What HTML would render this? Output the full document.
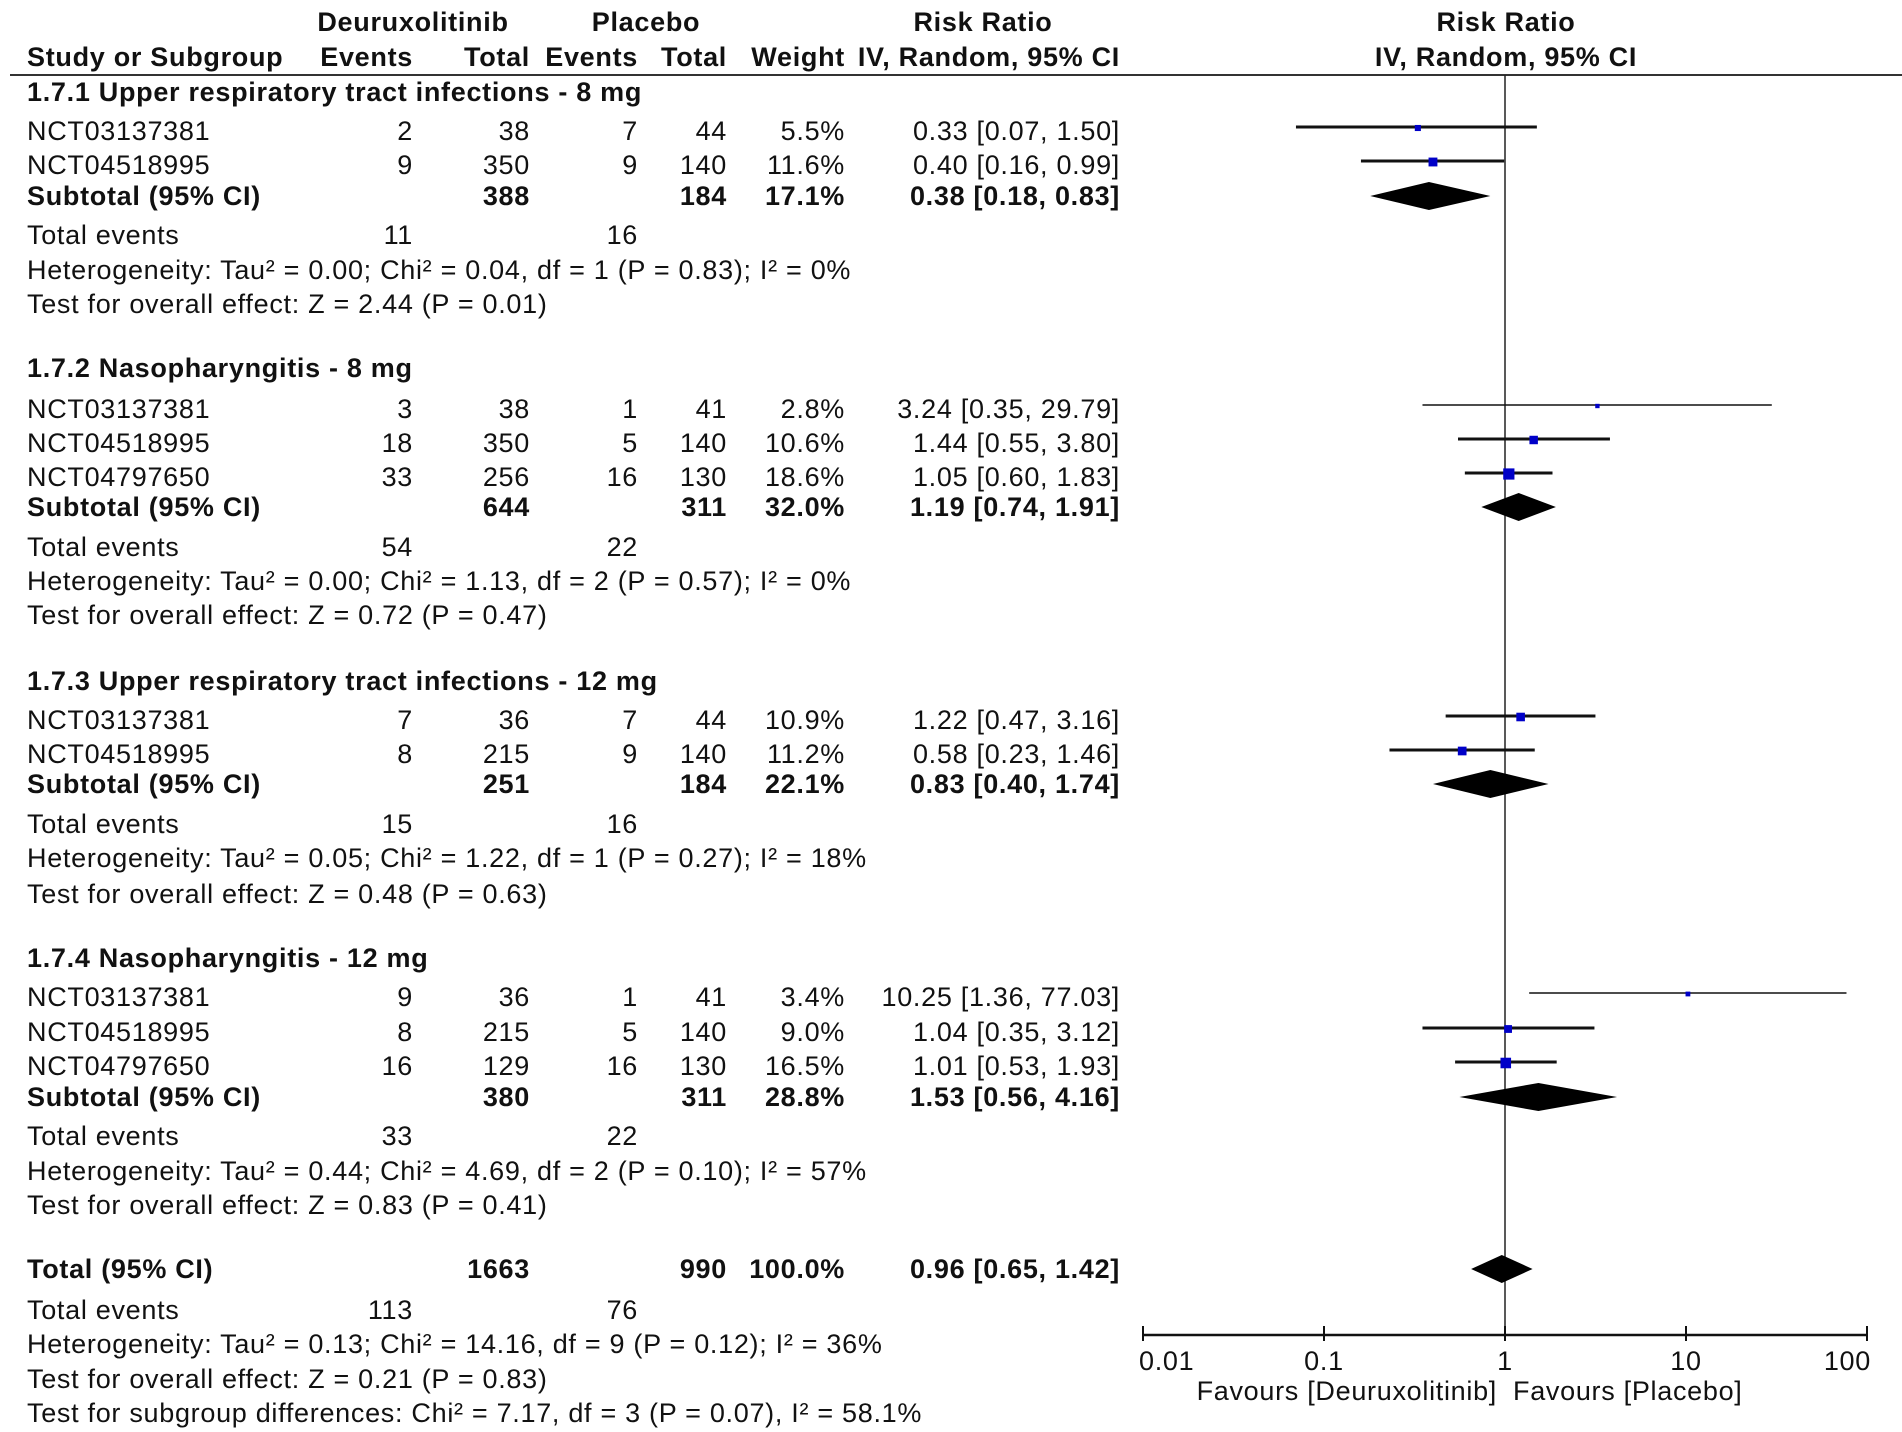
<!DOCTYPE html>
<html><head><meta charset="utf-8"><style>
html,body{margin:0;padding:0;background:#fff;}
svg{display:block;font-family:"Liberation Sans","DejaVu Sans",sans-serif;}
</style></head><body>
<svg id="chart" width="1902" height="1432" viewBox="0 0 1902 1432" xmlns="http://www.w3.org/2000/svg"></svg>
<script>
// ---- data ----
const studyNames = ["NCT03137381","NCT04518995","NCT03137381","NCT04518995","NCT04797650","NCT03137381","NCT04518995","NCT03137381","NCT04518995","NCT04797650"];
const studyEst = [0.33,0.40,3.24,1.44,1.05,1.22,0.58,10.25,1.04,1.01];
const studyLo  = [0.07,0.16,0.35,0.55,0.60,0.47,0.23,1.36,0.35,0.53];
const studyHi  = [1.50,0.99,29.79,3.80,1.83,3.16,1.46,77.03,3.12,1.93];
const studyWeight = [5.5,11.6,2.8,10.6,18.6,10.9,11.2,3.4,9.0,16.5];
const studyEvD = [2,9,3,18,33,7,8,9,8,16];
const studyTotD = [38,350,38,350,256,36,215,36,215,129];
const studyEvP = [7,9,1,5,16,7,9,1,5,16];
const studyTotP = [44,140,41,140,130,44,140,41,140,130];
const studyY = [131,165,409,443,477,720,754,997,1032,1066];
const subEst = [0.38,1.19,0.83,1.53,0.96];
const subLo  = [0.18,0.74,0.40,0.56,0.65];
const subHi  = [0.83,1.91,1.74,4.16,1.42];
const subLabel = ["Subtotal (95% CI)","Subtotal (95% CI)","Subtotal (95% CI)","Subtotal (95% CI)","Total (95% CI)"];
const subTotD = [388,644,251,380,1663];
const subTotP = [184,311,184,311,990];
const subWeight = ["17.1%","32.0%","22.1%","28.8%","100.0%"];
const subY = [196,507,784,1097,1269];
const tickValues = [0.01,0.1,1,10,100];
const tickLabels = ["0.01","0.1","1","10","100"];
const groups = [
 {title:"1.7.1 Upper respiratory tract infections - 8 mg", y:92, ev:[11,16], evY:235,
  het:"Heterogeneity: Tau² = 0.00; Chi² = 0.04, df = 1 (P = 0.83); I² = 0%", hetY:270,
  test:"Test for overall effect: Z = 2.44 (P = 0.01)", testY:304},
 {title:"1.7.2 Nasopharyngitis - 8 mg", y:368, ev:[54,22], evY:547,
  het:"Heterogeneity: Tau² = 0.00; Chi² = 1.13, df = 2 (P = 0.57); I² = 0%", hetY:581,
  test:"Test for overall effect: Z = 0.72 (P = 0.47)", testY:615},
 {title:"1.7.3 Upper respiratory tract infections - 12 mg", y:681, ev:[15,16], evY:824,
  het:"Heterogeneity: Tau² = 0.05; Chi² = 1.22, df = 1 (P = 0.27); I² = 18%", hetY:858,
  test:"Test for overall effect: Z = 0.48 (P = 0.63)", testY:894},
 {title:"1.7.4 Nasopharyngitis - 12 mg", y:958, ev:[33,22], evY:1136,
  het:"Heterogeneity: Tau² = 0.44; Chi² = 4.69, df = 2 (P = 0.10); I² = 57%", hetY:1171,
  test:"Test for overall effect: Z = 0.83 (P = 0.41)", testY:1205}
];

// ---- layout ----
const svg = document.getElementById('chart');
const NS = "http://www.w3.org/2000/svg";
const X1 = 1505, DEC = 181, AXY = 1335;
function xs(v){ return X1 + Math.log10(v)*DEC; }
const colLabel=27, colEvD=413, colTotD=530, colEvP=638, colTotP=727, colW=845, colRR=1120;
const FS = 27;
function el(tag, attrs){ const e=document.createElementNS(NS,tag); for(const k in attrs) e.setAttribute(k,attrs[k]); svg.appendChild(e); return e; }
function txt(s, x, yc, anchor, bold, name){
  const t = el('text',{x:x, y:yc+9, 'font-size':FS, fill:'#111', 'text-anchor':anchor||'start', 'font-weight':bold?'bold':'normal', 'letter-spacing':'0.7'});
  t.textContent = s;
  
  
  return t;
}
function fmt(v){ return v.toFixed(2); }
function ci(e,l,h){ return fmt(e)+" ["+fmt(l)+", "+fmt(h)+"]"; }

// headers
txt("Deuruxolitinib",413,22,'middle',true,'header-deuruxolitinib');
txt("Placebo",646,22,'middle',true,'header-placebo');
txt("Risk Ratio",983,22,'middle',true,'header-risk-ratio');
txt("Risk Ratio",1506,22,'middle',true,'header-plot-risk-ratio');
txt("Study or Subgroup",colLabel,57,'start',true,'header-study');
txt("Events",colEvD,57,'end',true,'header-events-d');
txt("Total",colTotD,57,'end',true,'header-total-d');
txt("Events",colEvP,57,'end',true,'header-events-p');
txt("Total",colTotP,57,'end',true,'header-total-p');
txt("Weight",colW,57,'end',true,'header-weight');
txt("IV, Random, 95% CI",colRR,57,'end',true,'header-method');
txt("IV, Random, 95% CI",1506,57,'middle',true,'header-plot-method');
const hl = el('line',{x1:10,x2:1902,y1:75,y2:75,stroke:'#333','stroke-width':2});



// null line
const nl = el('line',{x1:X1,x2:X1,y1:75,y2:AXY,stroke:'#222','stroke-width':1.5});



// groups
groups.forEach((g,i)=>{
  txt(g.title,colLabel,g.y,'start',true,'subgroup-title');
  txt("Total events",colLabel,g.evY,'start',false,'total-events-label');
  txt(String(g.ev[0]),colEvD,g.evY,'end',false,'total-events-d');
  txt(String(g.ev[1]),colEvP,g.evY,'end',false,'total-events-p');
  txt(g.het,colLabel,g.hetY,'start',false,'heterogeneity');
  txt(g.test,colLabel,g.testY,'start',false,'overall-effect');
});

// studies
studyNames.forEach((n,i)=>{
  const y = studyY[i];
  txt(n,colLabel,y,'start',false,'study-name');
  txt(String(studyEvD[i]),colEvD,y,'end',false,'events-d');
  txt(String(studyTotD[i]),colTotD,y,'end',false,'total-d');
  txt(String(studyEvP[i]),colEvP,y,'end',false,'events-p');
  txt(String(studyTotP[i]),colTotP,y,'end',false,'total-p');
  txt(studyWeight[i].toFixed(1)+"%",colW,y,'end',false,'weight');
  txt(ci(studyEst[i],studyLo[i],studyHi[i]),colRR,y,'end',false,'risk-ratio-ci');
  const ly = y-4;
  const line = el('line',{x1:xs(studyLo[i]),x2:xs(studyHi[i]),y1:ly,y2:ly,stroke:'#111','stroke-width':studyWeight[i]<5?1.5:3});
  
  
  const s = 2.6*Math.sqrt(studyWeight[i]);
  const sq = el('rect',{x:xs(studyEst[i])-s/2,y:ly-s/2+1,width:s,height:s,fill:'#0000c8'});
  
  
});

// subtotals
subEst.forEach((e,i)=>{
  const y = subY[i];
  txt(subLabel[i],colLabel,y,'start',true,'subtotal-label');
  txt(String(subTotD[i]),colTotD,y,'end',true,'subtotal-total-d');
  txt(String(subTotP[i]),colTotP,y,'end',true,'subtotal-total-p');
  txt(subWeight[i],colW,y,'end',true,'subtotal-weight');
  txt(ci(e,subLo[i],subHi[i]),colRR,y,'end',true,'subtotal-ci');
  const h = 14;
  const d = el('polygon',{points:[xs(subLo[i])+","+y, xs(e)+","+(y-h), xs(subHi[i])+","+y, xs(e)+","+(y+h)].join(" "), fill:'#000'});
  
  
});

// overall footer
txt("Total events",colLabel,1310,'start',false,'overall-total-events-label');
txt("113",colEvD,1310,'end',false,'overall-events-d');
txt("76",colEvP,1310,'end',false,'overall-events-p');
txt("Heterogeneity: Tau² = 0.13; Chi² = 14.16, df = 9 (P = 0.12); I² = 36%",colLabel,1344,'start',false,'overall-heterogeneity');
txt("Test for overall effect: Z = 0.21 (P = 0.83)",colLabel,1379,'start',false,'overall-effect-test');
txt("Test for subgroup differences: Chi² = 7.17, df = 3 (P = 0.07), I² = 58.1%",colLabel,1413,'start',false,'subgroup-differences');

// axis
const ax = el('line',{x1:xs(tickValues[0]),x2:xs(tickValues[tickValues.length-1]),y1:AXY,y2:AXY,stroke:'#111','stroke-width':2.5});


tickValues.forEach((v,i)=>{
  const tk = el('line',{x1:xs(v),x2:xs(v),y1:AXY-9,y2:AXY+6,stroke:'#111','stroke-width':2});
  
  
  let anchor='middle', x=xs(v);
  if(i===0){anchor='start'; x-=4;}
  if(i===tickValues.length-1){anchor='end'; x+=4;}
  txt(tickLabels[i],x,1361,anchor,false,'x-tick-label');
});
txt("Favours [Deuruxolitinib]",1497,1391,'end',false,'favours-left');
txt("Favours [Placebo]",1513,1391,'start',false,'favours-right');
</script>
</body></html>
